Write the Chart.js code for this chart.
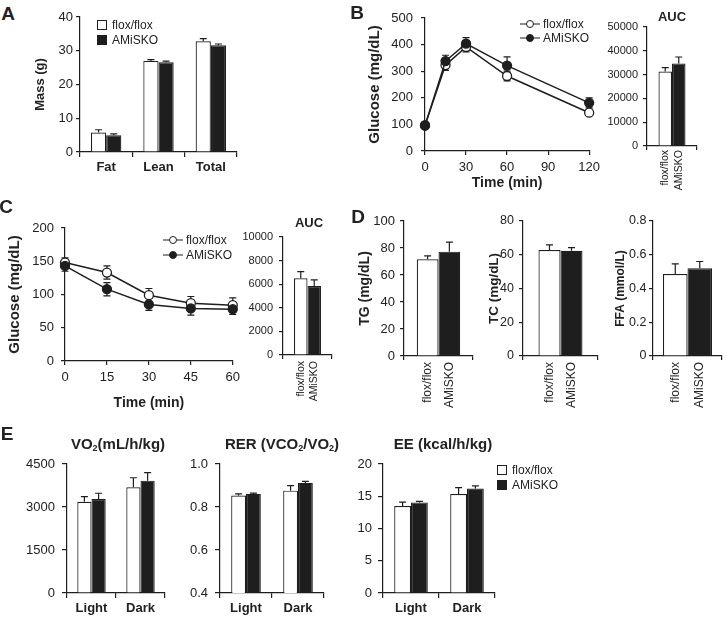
<!DOCTYPE html>
<html>
<head>
<meta charset="utf-8">
<title>AMiSKO metabolic phenotype</title>
<script src="https://cdn.jsdelivr.net/npm/chart.js@4.4.1/dist/chart.umd.min.js"></script>
<style>
  body { margin: 0; width: 726px; height: 619px; position: relative; overflow: hidden; background: #fff;
         font-family: "Liberation Sans", Arial, sans-serif; color: #222; }
  canvas { position: absolute; }
  .txt { position: absolute; transform: translate(-50%, -50%); white-space: nowrap; line-height: 1; font-weight: bold; }
  .txt sub { font-size: 60%; vertical-align: -0.25em; line-height: 0; }
  .lbl { position: absolute; white-space: nowrap; line-height: 1; font-size: 12px; transform: translateY(-50%); }
  .box { position: absolute; width: 8px; height: 8px; border: 1px solid #1e1e1e; }
  .mk-line { position: absolute; height: 0; border-top: 1.5px solid #1e1e1e; transform: translateY(-50%); }
  .mk-dot { position: absolute; width: 6px; height: 6px; border: 1.3px solid #1e1e1e; border-radius: 50%;
            transform: translate(-50%, -50%); }
</style>
</head>
<body>
<script>
// ---------- data ----------
const groupNames = ['flox/flox', 'AMiSKO'];

// A - body composition (g)
const massCats = ['Fat', 'Lean', 'Total'];
const massFlox = [5.8, 27.0, 32.8];
const massFloxErr = [0.8, 0.4, 0.8];
const massAmi = [5.0, 26.6, 31.6];
const massAmiErr = [0.4, 0.3, 0.4];
const massAxis = [0, 40, 10];

// B - glucose tolerance test
const gttTime = [0, 15, 30, 60, 120];
const gttFlox = [97, 323, 391, 282, 144];
const gttFloxErr = [8, 20, 18, 18, 10];
const gttAmi = [95, 338, 404, 321, 181];
const gttAmiErr = [8, 22, 22, 33, 19];
const gttTimeAxis = [0, 120, 30];
const gttAxis = [0, 500, 100];
const gttAuc = [31300, 34700];
const gttAucErr = [1600, 2700];
const gttAucAxis = [0, 50000, 10000];

// C - insulin tolerance test
const ittTime = [0, 15, 30, 45, 60];
const ittFlox = [148, 133, 99, 87, 84];
const ittFloxErr = [7, 10, 10, 10, 11];
const ittAmi = [143, 108, 85, 79, 78];
const ittAmiErr = [8, 10, 9, 10, 8];
const ittTimeAxis = [0, 60, 15];
const ittAxis = [0, 200, 50];
const ittAuc = [6500, 5850];
const ittAucErr = [560, 510];
const ittAucAxis = [0, 10000, 2000];

// D - plasma lipids
const tg = [71.6, 77.3];
const tgErr = [2.5, 7];
const tgAxis = [0, 100, 20];
const tc = [62.8, 62.4];
const tcErr = [3, 1.8];
const tcAxis = [0, 80, 20];
const ffa = [0.486, 0.52];
const ffaErr = [0.06, 0.04];
const ffaAxis = [0, 0.8, 0.2];

// E - indirect calorimetry
const phaseCats = ['Light', 'Dark'];
const vo2Flox = [3180, 3690];
const vo2FloxErr = [180, 330];
const vo2Ami = [3280, 3920];
const vo2AmiErr = [200, 280];
const vo2Axis = [0, 4500, 1500];
const rerFlox = [0.853, 0.876];
const rerFloxErr = [0.008, 0.023];
const rerAmi = [0.861, 0.912];
const rerAmiErr = [0.004, 0.007];
const rerAxis = [0.4, 1.0, 0.2];
const eeFlox = [13.5, 15.35];
const eeFloxErr = [0.6, 1.0];
const eeAmi = [14.05, 16.2];
const eeAmiErr = [0.15, 0.4];
const eeAxis = [0, 20, 5];

// ---------- look ----------
const FONT = '"Liberation Sans", Arial, sans-serif';
const INK = '#1e1e1e';
Chart.defaults.font.family = FONT;
Chart.defaults.color = '#222';

// error bars: bars get one-sided bars on top, lines get two-sided bars under the points
function drawErrors(chart, twoSided) {
  const ctx = chart.ctx;
  const y = chart.scales.y;
  chart.data.datasets.forEach((ds, i) => {
    if (!ds.errors || !!ds.twoSided !== twoSided) return;
    chart.getDatasetMeta(i).data.forEach((el, j) => {
      const v = ds.data[j].y !== undefined ? ds.data[j].y : ds.data[j];
      const e = ds.errors[j];
      const hi = y.getPixelForValue(v + e);
      const lo = twoSided ? y.getPixelForValue(v - e) : el.y;
      ctx.save();
      ctx.strokeStyle = INK;
      ctx.lineWidth = 1.2;
      ctx.beginPath();
      ctx.moveTo(el.x, lo);
      ctx.lineTo(el.x, hi);
      ctx.moveTo(el.x - 3.5, hi);
      ctx.lineTo(el.x + 3.5, hi);
      if (twoSided) {
        ctx.moveTo(el.x - 3.5, lo);
        ctx.lineTo(el.x + 3.5, lo);
      }
      ctx.stroke();
      ctx.restore();
    });
  });
}
Chart.register({
  id: 'errorBars',
  beforeDatasetsDraw: chart => drawErrors(chart, true),
  afterDatasetsDraw: chart => drawErrors(chart, false)
});

function place(box) {
  const c = document.createElement('canvas');
  c.width = box.w;
  c.height = box.h;
  c.style.left = box.x + 'px';
  c.style.top = box.y + 'px';
  document.body.appendChild(c);
  return c;
}

// fixes the plot area of a chart at a given spot of the page
function frame(box, area) {
  return {
    padding: { left: 0, top: area.top - box.y, right: box.x + box.w - area.right, bottom: 0 },
    yWidth: area.left - box.x,
    xHeight: box.y + box.h - area.bottom
  };
}

function baseOptions(f, scales) {
  return {
    responsive: false, animation: false, events: [],
    layout: { padding: f.padding },
    plugins: { legend: { display: false }, tooltip: { enabled: false } },
    scales
  };
}

function yScale(box, f, o) {
  return {
    min: o.range[0], max: o.range[1],
    afterFit: s => { s.width = f.yWidth; s.paddingTop = 0; s.paddingBottom = 0; },
    border: { color: INK, width: 1.2 },
    grid: { drawOnChartArea: false, color: INK, lineWidth: 1.2, tickLength: o.tickLen || 4 },
    ticks: { stepSize: o.range[2], padding: o.pad, font: { size: o.size || 13 }, callback: o.fmt || (v => String(v)) },
    title: o.title ? {
      display: true, text: o.title.text, font: { size: o.title.size, weight: 'bold' },
      padding: { top: o.title.x - box.x - o.title.size * 0.6, bottom: 0 }
    } : { display: false }
  };
}

function barChart(box, area, o) {
  const f = frame(box, area);
  const bw = (area.right - area.left) * o.catPct / 2;
  const bar = (name, data, errors, fill) => ({
    label: name, data, errors, backgroundColor: fill, borderColor: INK, borderWidth: 1.2,
    barPercentage: 1, categoryPercentage: o.catPct
  });
  const x = {
    afterFit: s => { s.height = f.xHeight; s.paddingLeft = 0; s.paddingRight = 0; },
    border: { color: INK, width: 1.2 },
    grid: { drawOnChartArea: false, color: INK, lineWidth: 1.2, tickLength: o.xTickLen || 4 },
    ticks: o.rotated
      ? { minRotation: 90, maxRotation: 90, autoSkip: false, padding: o.xPad, labelOffset: -bw / 2,
          font: { size: o.xSize, lineHeight: bw + 'px' } }
      : { maxRotation: 0, autoSkip: false, padding: o.xPad, font: { size: 13, weight: 'bold' } }
  };
  return new Chart(place(box), {
    type: 'bar',
    data: {
      labels: o.labels,
      datasets: [bar(groupNames[0], o.flox, o.floxErr, '#fff'), bar(groupNames[1], o.ami, o.amiErr, INK)]
    },
    options: baseOptions(f, { x, y: yScale(box, f, o) })
  });
}

function lineChart(box, area, o) {
  const f = frame(box, area);
  const pts = ys => o.time.map((t, i) => ({ x: t, y: ys[i] }));
  // the filled AMiSKO markers sit on top of the open ones
  const line = (name, ys, errors, fill, order) => ({
    label: name, data: pts(ys), errors, twoSided: true, clip: false, order,
    borderColor: INK, borderWidth: 1.5, pointRadius: 4.5, pointBorderWidth: 1.3,
    pointBackgroundColor: fill, pointBorderColor: INK
  });
  const x = {
    type: 'linear', min: o.xRange[0], max: o.xRange[1],
    afterFit: s => { s.height = f.xHeight; },
    border: { color: INK, width: 1.2 },
    grid: { drawOnChartArea: false, color: INK, lineWidth: 1.2, tickLength: 4 },
    ticks: { stepSize: o.xRange[2], padding: 5, font: { size: 13 }, callback: v => String(v) },
    title: { display: true, text: 'Time (min)', font: { size: 14, weight: 'bold' },
             padding: { top: 0, bottom: box.y + box.h - o.xTitleY - 14 * 0.6 } }
  };
  return new Chart(place(box), {
    type: 'line',
    data: { datasets: [line(groupNames[0], o.flox, o.floxErr, '#fff', 1), line(groupNames[1], o.ami, o.amiErr, INK, 0)] },
    options: baseOptions(f, { x, y: yScale(box, f, o) })
  });
}

// ---------- html text: panel letters, titles, legends ----------
function text(html, x, y, size) {
  const d = document.createElement('div');
  d.className = 'txt';
  d.innerHTML = html;
  d.style.left = x + 'px';
  d.style.top = y + 'px';
  d.style.fontSize = size + 'px';
  document.body.appendChild(d);
}
function add(cls, css, content) {
  const d = document.createElement('div');
  d.className = cls;
  Object.assign(d.style, css);
  if (content) d.textContent = content;
  document.body.appendChild(d);
}
function boxLegend(x, y) {
  groupNames.forEach((g, i) => {
    add('box', { left: x + 'px', top: (y - 5 + i * 14.5) + 'px', background: i ? INK : '#fff' });
    add('lbl', { left: (x + 15) + 'px', top: (y + i * 14.5) + 'px' }, g);
  });
}
function markerLegend(x, y, gap) {
  groupNames.forEach((g, i) => {
    const yy = y + i * gap;
    add('mk-line', { left: (x - 10) + 'px', top: yy + 'px', width: '20px' });
    add('mk-dot', { left: x + 'px', top: yy + 'px', background: i ? INK : '#fff' });
    add('lbl', { left: (x + 13) + 'px', top: yy + 'px' }, g);
  });
}

// ---------- panels ----------
barChart({ x: 20, y: 4, w: 225, h: 185 }, { left: 80, top: 17, right: 237, bottom: 152 }, {
  labels: massCats, flox: massFlox, floxErr: massFloxErr, ami: massAmi, amiErr: massAmiErr,
  catPct: 0.58, range: massAxis, pad: 3, xPad: 3, xTickLen: 5,
  title: { text: 'Mass (g)', size: 13, x: 40 }
});

lineChart({ x: 360, y: 4, w: 245, h: 190 }, { left: 425, top: 18, right: 592, bottom: 151 }, {
  time: gttTime, flox: gttFlox, floxErr: gttFloxErr, ami: gttAmi, amiErr: gttAmiErr,
  xRange: gttTimeAxis, range: gttAxis, pad: 8, xTitleY: 183,
  title: { text: 'Glucose (mg/dL)', size: 15, x: 375 }
});

barChart({ x: 600, y: 4, w: 112, h: 196 }, { left: 647, top: 27, right: 697, bottom: 146 }, {
  labels: [groupNames], flox: [gttAuc[0]], floxErr: [gttAucErr[0]], ami: [gttAuc[1]], amiErr: [gttAucErr[1]],
  rotated: true, catPct: 0.54, range: gttAucAxis, size: 11, pad: 5, xSize: 10.5, xPad: 0
});

lineChart({ x: 0, y: 212, w: 245, h: 203 }, { left: 65, top: 228, right: 233, bottom: 361 }, {
  time: ittTime, flox: ittFlox, floxErr: ittFloxErr, ami: ittAmi, amiErr: ittAmiErr,
  xRange: ittTimeAxis, range: ittAxis, pad: 7, xTitleY: 403,
  title: { text: 'Glucose (mg/dL)', size: 15, x: 15 }
});

barChart({ x: 240, y: 210, w: 105, h: 200 }, { left: 283, top: 237, right: 332, bottom: 355 }, {
  labels: [groupNames], flox: [ittAuc[0]], floxErr: [ittAucErr[0]], ami: [ittAuc[1]], amiErr: [ittAucErr[1]],
  rotated: true, catPct: 0.55, range: ittAucAxis, size: 11, pad: 6, xSize: 10.5, xPad: 2
});

barChart({ x: 345, y: 205, w: 135, h: 210 }, { left: 404, top: 221, right: 473, bottom: 356 }, {
  labels: [groupNames], flox: [tg[0]], floxErr: [tgErr[0]], ami: [tg[1]], amiErr: [tgErr[1]],
  rotated: true, catPct: 0.63, range: tgAxis, pad: 5, xSize: 12, xPad: 2,
  title: { text: 'TG (mg/dL)', size: 14, x: 365 }
});

barChart({ x: 480, y: 205, w: 125, h: 210 }, { left: 523, top: 221, right: 598, bottom: 356 }, {
  labels: [groupNames], flox: [tc[0]], floxErr: [tcErr[0]], ami: [tc[1]], amiErr: [tcErr[1]],
  rotated: true, catPct: 0.587, range: tcAxis, size: 12.5, pad: 5, xSize: 12, xPad: 2,
  title: { text: 'TC (mg/dL)', size: 13.5, x: 494 }
});

barChart({ x: 605, y: 205, w: 121, h: 210 }, { left: 653, top: 221, right: 722, bottom: 356 }, {
  labels: [groupNames], flox: [ffa[0]], floxErr: [ffaErr[0]], ami: [ffa[1]], amiErr: [ffaErr[1]],
  rotated: true, catPct: 0.71, range: ffaAxis, size: 12.5, pad: 2.5, xSize: 12, xPad: 2,
  fmt: v => v === 0 ? '0' : v.toFixed(1),
  title: { text: 'FFA (mmol/L)', size: 12, x: 621 }
});

barChart({ x: 0, y: 450, w: 172, h: 169 }, { left: 67, top: 464, right: 165, bottom: 593 }, {
  labels: phaseCats, flox: vo2Flox, floxErr: vo2FloxErr, ami: vo2Ami, amiErr: vo2AmiErr,
  catPct: 0.58, range: vo2Axis, pad: 7, tickLen: 5, xPad: 3, xTickLen: 5
});

barChart({ x: 172, y: 450, w: 160, h: 169 }, { left: 220, top: 464, right: 324, bottom: 593 }, {
  labels: phaseCats, flox: rerFlox, floxErr: rerFloxErr, ami: rerAmi, amiErr: rerAmiErr,
  catPct: 0.57, range: rerAxis, pad: 7, tickLen: 5, xPad: 3, xTickLen: 5,
  fmt: v => v.toFixed(1)
});

barChart({ x: 332, y: 450, w: 170, h: 169 }, { left: 383, top: 464, right: 495, bottom: 593 }, {
  labels: phaseCats, flox: eeFlox, floxErr: eeFloxErr, ami: eeAmi, amiErr: eeAmiErr,
  catPct: 0.6, range: eeAxis, pad: 6, tickLen: 5, xPad: 3, xTickLen: 5
});

// letters and titles
text('A', 8, 13, 19);
text('B', 357, 12, 19);
text('C', 6, 206, 19);
text('D', 358, 216, 19);
text('E', 7, 433, 19);
text('AUC', 672, 16, 13);
text('AUC', 309, 222, 13);
text('VO<sub>2</sub>(mL/h/kg)', 118, 443, 15);
text('RER (VCO<sub>2</sub>/VO<sub>2</sub>)', 282, 443, 15);
text('EE (kcal/h/kg)', 443, 443, 15);

// legends
boxLegend(97, 25);
markerLegend(530, 24, 14);
markerLegend(173, 240, 15);
boxLegend(497, 470);
</script>
</body>
</html>
